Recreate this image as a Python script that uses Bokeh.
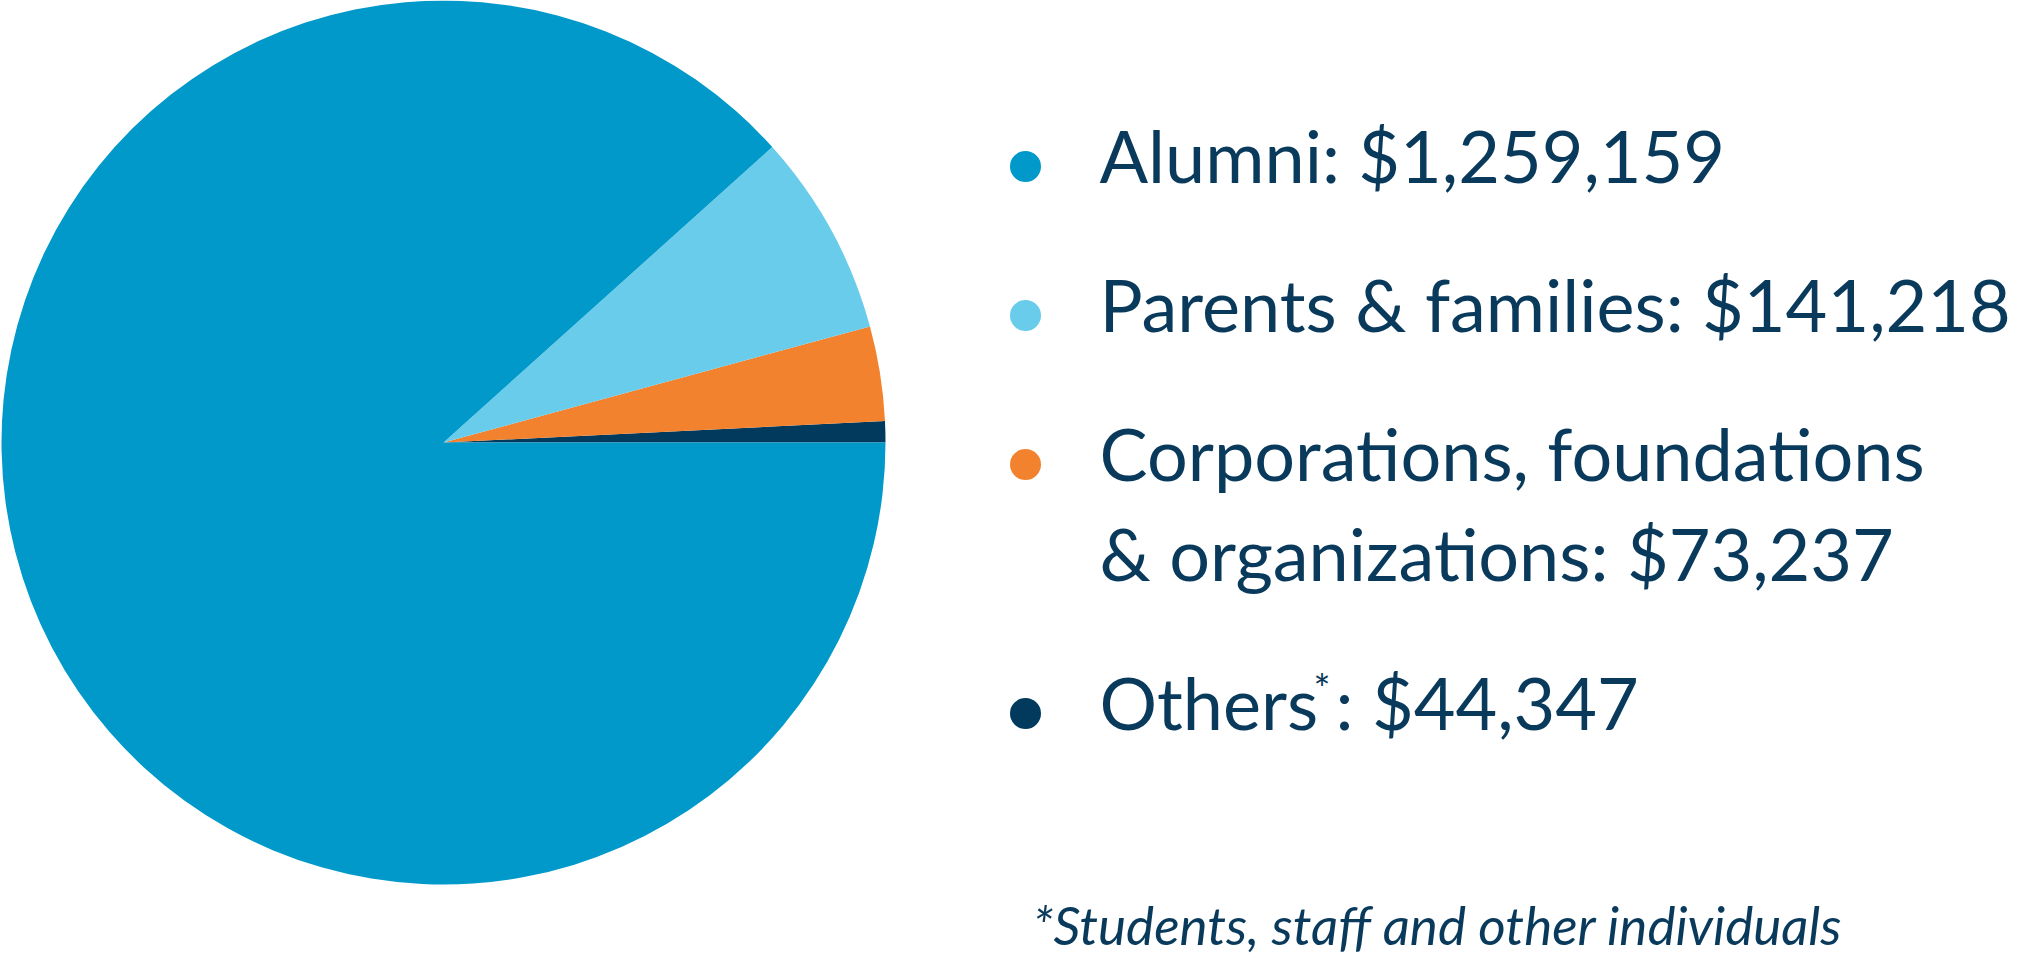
import math
from bokeh.plotting import figure
from bokeh.models import Range1d, ColumnDataSource
from bokeh.core.properties import value
from bokeh.embed import file_html
from bokeh.resources import INLINE

# ---- data ----
categories = ["Alumni", "Parents & families", "Corporations, foundations\n& organizations", "Others"]
amounts = [1259159, 141218, 73237, 44347]
slice_share_pct = [88.35, 7.42, 3.46, 0.77]   # shares of the pie as drawn in the picture
colors = ["#0099CA", "#69CCEA", "#F3822E", "#013A5C"]
footnote_marks = ["", "", "", "*"]
footnote = "*Students, staff and other individuals"

# ---- layout / style ----
W, H = 2019, 958
TEXT = "#093A5C"
FONT = "Lato"
FSZ = 72
FS = f"{FSZ}px"
K = 0.42          # svg text baseline correction (fraction of font size)

def Y(sy):
    return H - sy

def TY(sy, size):
    """y for a text whose alphabetic baseline should sit at screen y = sy"""
    return Y(sy - K * size)

p = figure(width=W, height=H, x_range=Range1d(0, W), y_range=Range1d(0, H),
           output_backend="svg", toolbar_location=None, min_border=0)
p.axis.visible = False
p.grid.visible = False
p.outline_line_color = None
p.background_fill_color = "white"
p.border_fill_color = "white"

# ---- pie (counter-clockwise from 3 o'clock, last category first) ----
cx, cy, r = 443, Y(442), 442
starts, ends, fills = [], [], []
a = 0.0
for i in reversed(range(len(categories))):
    b = a + slice_share_pct[i] / sum(slice_share_pct) * 2 * math.pi
    starts.append(a); ends.append(b); fills.append(colors[i])
    a = b
pie = ColumnDataSource(dict(x=[cx] * len(starts), y=[cy] * len(starts), s=starts, e=ends, c=fills))
p.wedge(x="x", y="y", radius=r, start_angle="s", end_angle="e", fill_color="c",
        line_color=None, source=pie)

# ---- legend ----
tx, dot_x = 1099, 1025
base = 185
line_gap, item_gap = 100, 149
dx, dy, dc = [], [], []
lx, ly, lt = [], [], []
for i, cat in enumerate(categories):
    lines = cat.split("\n")
    dx.append(dot_x); dy.append(Y(base - 19)); dc.append(colors[i])
    amt = "$" + format(amounts[i], ",")
    for j, ln in enumerate(lines):
        yb = base + j * line_gap
        last = j == len(lines) - 1
        if last and footnote_marks[i]:
            p.text(x=[tx], y=[TY(yb, FSZ)], text=[ln], text_font=value(FONT), text_font_size=FS,
                   text_color=TEXT, text_baseline="alphabetic", text_align="left")
            p.text(x=[1313], y=[Y(yb - 44)], text=[footnote_marks[i]], text_font=value(FONT),
                   text_font_size="40px", text_color=TEXT, text_baseline="alphabetic")
            p.text(x=[1335], y=[TY(yb, FSZ)], text=[": " + amt], text_font=value(FONT),
                   text_font_size=FS, text_color=TEXT, text_baseline="alphabetic",
                   text_align="left")
        else:
            lx.append(tx); ly.append(TY(yb, FSZ)); lt.append(ln + (": " + amt if last else ""))
    base = base + (len(lines) - 1) * line_gap + item_gap

p.text(x=lx, y=ly, text=lt, text_font=value(FONT), text_font_size=FS, text_color=TEXT,
       text_baseline="alphabetic", text_align="left")
p.scatter(x=dx, y=dy, size=31, fill_color=dc, line_color=None)

p.text(x=[1032], y=[TY(946, 53)], text=[footnote], text_font=value(FONT), text_font_size="53px",
       text_font_style="italic", text_color=TEXT, text_baseline="alphabetic")

open("out.html", "w").write(file_html(p, INLINE))
